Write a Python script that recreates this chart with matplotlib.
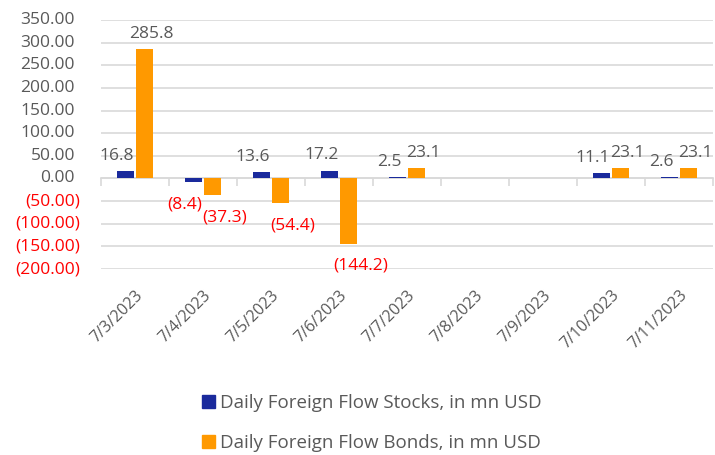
import matplotlib
matplotlib.use("Agg")
import matplotlib.pyplot as plt
import matplotlib.transforms as mtransforms
import numpy as np

categories = ["7/3/2023", "7/4/2023", "7/5/2023", "7/6/2023", "7/7/2023",
              "7/8/2023", "7/9/2023", "7/10/2023", "7/11/2023"]
stocks = [16.8, -8.4, 13.6, 17.2, 2.5, np.nan, np.nan, 11.1, 2.6]
bonds = [285.8, -37.3, -54.4, -144.2, 23.1, np.nan, np.nan, 23.1, 23.1]
yticks = [350, 300, 250, 200, 150, 100, 50, 0, -50, -100, -150, -200]
series_names = ["Daily Foreign Flow Stocks, in mn USD", "Daily Foreign Flow Bonds, in mn USD"]

C_STOCK = "#1A2A9C"
C_BOND = "#FF9900"
GRID = "#D9D9D9"
TXT = "#595959"
RED = "#FF0000"

plt.rcParams['font.family'] = ['Open Sans', 'DejaVu Sans']

fig = plt.figure(figsize=(7.15, 4.55), dpi=100)
ax = fig.add_axes([101/715, 1-269/455, 612/715, 249/455])

x = np.arange(len(categories))
w = 0.25
off = 0.145
b1 = ax.bar(x - off, stocks, w, color=C_STOCK, label=series_names[0], zorder=3)
b2 = ax.bar(x + off, bonds, w, color=C_BOND, label=series_names[1], zorder=3)

ax.set_xlim(-0.5, len(categories) - 0.5)
ax.set_ylim(-200, 350)
ax.set_yticks(yticks)
ax.yaxis.grid(True, color=GRID, linewidth=1.2, zorder=0)
ax.set_axisbelow(True)
for s in ["top", "right", "left"]:
    ax.spines[s].set_visible(False)
ax.spines["bottom"].set_position(("data", 0))
ax.spines["bottom"].set_color(GRID)
ax.spines["bottom"].set_linewidth(1.2)
ax.tick_params(axis="y", length=0, labelleft=False)

# y tick labels (Excel style: negatives in red parentheses)
ytr = ax.get_yaxis_transform()
for v in yticks:
    if v < 0:
        s, c, dx = f"({abs(v):.2f})", RED, -21
    else:
        s, c, dx = f"{v:.2f}", TXT, -26
    t = mtransforms.offset_copy(ytr, fig=fig, x=dx * 0.72, y=0, units="points")
    ax.text(0, v, s, transform=t, ha="right", va="center", color=c, fontsize=12.5)

# boundary tick marks on zero axis
ax.set_xticks(np.arange(-0.5, len(categories)))
ax.set_xticklabels([])
ax.tick_params(axis="x", which="major", length=6, color=GRID, width=1.2, direction="out")

# category labels at bottom
sec = ax.secondary_xaxis(0)
sec.set_xticks(x)
sec.set_xticklabels(categories, rotation=45, ha="right", rotation_mode="anchor", color=TXT, fontsize=11.5)
sec.tick_params(length=0, pad=13)
sec.spines["bottom"].set_visible(False)

def lfmt(v):
    return f"({abs(v):.1f})" if v < 0 else f"{v:.1f}"

for bars, vals, dx in ((b1, stocks, -8), (b2, bonds, 7)):
    for rect, v in zip(bars, vals):
        if np.isnan(v):
            continue
        cx = rect.get_x() + rect.get_width() / 2
        if v >= 0:
            ax.annotate(lfmt(v), (cx, v), xytext=(dx * 0.72, 11), textcoords="offset points",
                        ha="center", va="center", color=TXT, fontsize=12.5)
        else:
            ax.annotate(lfmt(v), (cx, v), xytext=((dx + 5 if dx > 0 else dx) * 0.72, -16), textcoords="offset points",
                        ha="center", va="center", color=RED, fontsize=12.5)

h1 = plt.Rectangle((0, 0), 1, 1, color=C_STOCK)
h2 = plt.Rectangle((0, 0), 1, 1, color=C_BOND)
fig.legend([h1, h2], series_names, loc="center", bbox_to_anchor=(0.52, 1 - 423/455),
           ncol=1, frameon=False, fontsize=13.5, labelcolor=TXT, handlelength=0.7,
           handleheight=0.7, handletextpad=0.3, labelspacing=1.2)

fig.savefig("out.png", dpi=100)
